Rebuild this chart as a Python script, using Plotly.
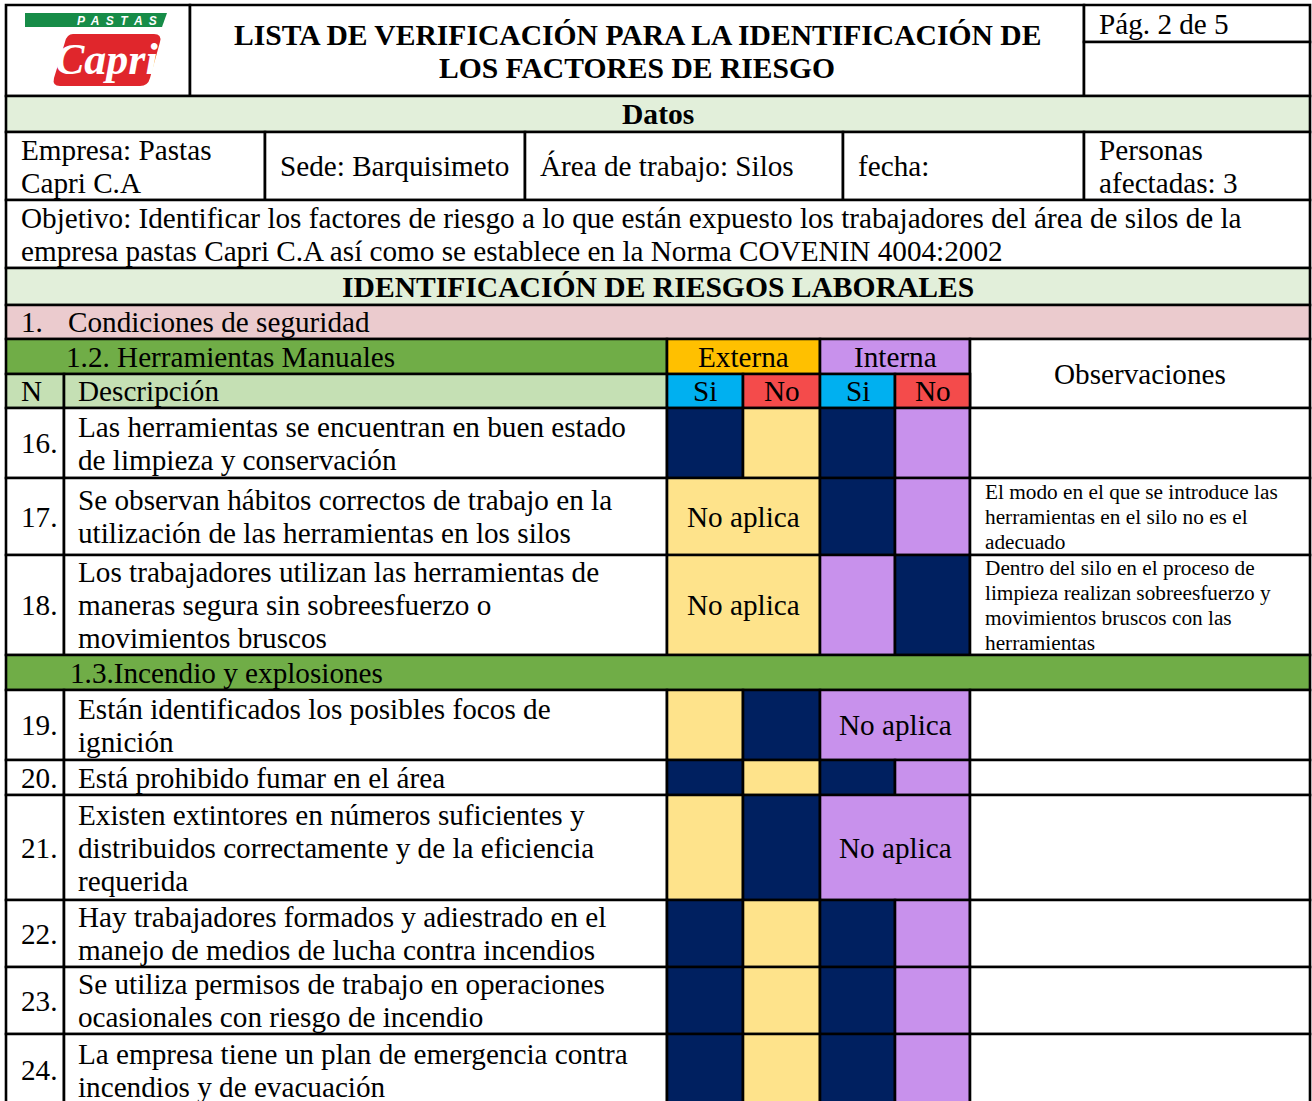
import plotly.graph_objects as go

# ---------------- DATA ----------------
TITLE_LINES = ["LISTA DE VERIFICACIÓN PARA LA IDENTIFICACIÓN DE", "LOS FACTORES DE RIESGO"]
PAGE_LABEL = "Pág. 2 de 5"
LOGO_TOP = "P  A  S  T  A  S"
LOGO_NAME = "Capri"
SECTION_DATOS = "Datos"
INFO_FIELDS = [["Empresa: Pastas", "Capri C.A"], ["Sede: Barquisimeto"], ["Área de trabajo: Silos"],
               ["fecha:"], ["Personas", "afectadas: 3"]]
OBJETIVO_LINES = [
    "Objetivo: Identificar los factores de riesgo a lo que están expuesto los trabajadores del área de silos de la",
    "empresa pastas Capri C.A así como se establece en la Norma COVENIN 4004:2002",
]
SECTION_ID = "IDENTIFICACIÓN DE RIESGOS LABORALES"
CONDICIONES_NUM = "1."
CONDICIONES_TXT = "Condiciones de seguridad"
GROUP_HEADERS = ["Externa", "Interna"]
ANSWER_LABELS = ["Si", "No"]
COL_N = "N"
COL_DESC = "Descripción"
OBS_HEADER = "Observaciones"
NO_APLICA = "No aplica"
SUB_SECTIONS = ["1.2. Herramientas Manuales", "1.3.Incendio y explosiones"]

ITEM_N = ["16.", "17.", "18.", "19.", "20.", "21.", "22.", "23.", "24."]
ITEM_SECTION = [0, 0, 0, 1, 1, 1, 1, 1, 1]
ITEM_DESC = [
    ["Las herramientas se encuentran en buen estado", "de limpieza y conservación"],
    ["Se observan hábitos correctos de trabajo en la", "utilización de las herramientas en los silos"],
    ["Los trabajadores utilizan las herramientas de", "maneras segura sin sobreesfuerzo o", "movimientos bruscos"],
    ["Están identificados los posibles focos de", "ignición"],
    ["Está prohibido fumar en el área"],
    ["Existen extintores en números suficientes y", "distribuidos correctamente y de la eficiencia", "requerida"],
    ["Hay trabajadores formados y adiestrado en el", "manejo de medios de lucha contra incendios"],
    ["Se utiliza permisos de trabajo en operaciones", "ocasionales con riesgo de incendio"],
    ["La empresa tiene un plan de emergencia contra", "incendios y de evacuación"],
]
EXTERNA = ["Si", "NA", "NA", "No", "Si", "No", "Si", "Si", "Si"]
INTERNA = ["Si", "Si", "No", "NA", "Si", "NA", "Si", "Si", "Si"]
OBSERVACIONES = [
    [],
    ["El modo en el que se introduce las", "herramientas en el silo no es el", "adecuado"],
    ["Dentro del silo en el proceso de", "limpieza realizan sobreesfuerzo y", "movimientos bruscos con las", "herramientas"],
    [], [], [], [], [], [],
]

# ---------------- LAYOUT / STYLE ----------------
W, H = 1312, 1101
FONT = "Liberation Serif"
FS, FS_BOLD, FS_SMALL = 29.2, 29.6, 21.3
LH, LH_SMALL = 33, 25
LINE_W = 2.6

X_L, X_R = 6, 1310
X_LOGO, X_PAG = 190, 1084
INFO_X = [6, 265, 525, 843, 1084, 1310]
COL_X = [6, 64, 667, 743, 820, 895, 970, 1310]  # N, Desc, ExtSi, ExtNo, IntSi, IntNo, Obs
PAD = 13

Y_TOP, Y_PAG_SPLIT, Y_HDR_B = 5, 42, 96
TOP_ROWS = [96, 132, 200, 268, 305, 339, 374, 408]  # datos, info, objetivo, ident, cond, sub1, colhdr
ITEM_H = [70, 77, 100, 70, 35, 105, 67, 67, 72]
SUB_H = 35

C_DATOS = "#E2EFDA"
C_PINK = "#EBCBCE"
C_GREEN = "#70AD47"
C_LGREEN = "#C5E0B4"
C_GOLD = "#FFC000"
C_PURPLE = "#C891EC"
C_CYAN = "#00B0F0"
C_RED = "#F44B4B"
C_YELLOW = "#FEE38B"
C_NAVY = "#002060"

shapes, annots = [], []


def rect(x0, x1, y0, y1, fill="white", lw=LINE_W):
    shapes.append(dict(type="rect", xref="x", yref="y", x0=x0, x1=x1, y0=y0, y1=y1,
                       fillcolor=fill, line=dict(color="black", width=lw), layer="below"))


def text(x, y, s, anchor="left", size=FS, bold=False, color="black", family=FONT, italic=False):
    annots.append(dict(x=x, y=y, xref="x", yref="y", text=s, showarrow=False,
                       xanchor=anchor, yanchor="middle",
                       font=dict(family=family, size=size, color=color,
                                 weight="bold" if bold else "normal",
                                 style="italic" if italic else "normal")))


def lines(x, yc, lst, lh=LH, size=FS, anchor="left", bold=False):
    n = len(lst)
    for i, s in enumerate(lst):
        text(x, yc + (i - (n - 1) / 2) * lh, s, anchor=anchor, size=size, bold=bold)


# ---- header ----
rect(X_L, X_LOGO, Y_TOP, Y_HDR_B)
rect(X_LOGO, X_PAG, Y_TOP, Y_HDR_B)
rect(X_PAG, X_R, Y_TOP, Y_PAG_SPLIT)
rect(X_PAG, X_R, Y_PAG_SPLIT, Y_HDR_B)
lines((X_LOGO + X_PAG) / 2, (Y_TOP + Y_HDR_B) / 2 + 1, TITLE_LINES, anchor="center", bold=True,
      size=FS_BOLD)
text(X_PAG + PAD, (Y_TOP + Y_PAG_SPLIT) / 2, PAGE_LABEL)

# logo
shapes.append(dict(type="path", xref="x", yref="y", path="M 25,13 L 167,13 L 162,27 L 25,27 Z",
                   fillcolor="#178C48", line=dict(width=0), layer="above"))
shapes.append(dict(type="path", xref="x", yref="y",
                   path="M 73,34 L 154,34 Q 162,34 160,42 L 150,78 Q 148,86 140,86 L 60,86 Q 52,86 54,78 L 65,42 Q 67,34 73,34 Z",
                   fillcolor="#E0262C", line=dict(width=0), layer="above"))
text(117, 20.5, LOGO_TOP, anchor="center", size=12, bold=True, color="white",
     family="Liberation Sans", italic=True)
text(106, 59, LOGO_NAME, anchor="center", size=44, bold=True, color="white", italic=True)

# ---- datos ----
y0, y1 = TOP_ROWS[0], TOP_ROWS[1]
rect(X_L, X_R, y0, y1, C_DATOS)
text((X_L + X_R) / 2, (y0 + y1) / 2, SECTION_DATOS, anchor="center", bold=True, size=FS_BOLD)

# ---- info ----
y0, y1 = TOP_ROWS[1], TOP_ROWS[2]
for i, f in enumerate(INFO_FIELDS):
    rect(INFO_X[i], INFO_X[i + 1], y0, y1)
    lines(INFO_X[i] + PAD, (y0 + y1) / 2, f)

# ---- objetivo ----
y0, y1 = TOP_ROWS[2], TOP_ROWS[3]
rect(X_L, X_R, y0, y1)
lines(X_L + PAD, (y0 + y1) / 2, OBJETIVO_LINES)

# ---- identificacion ----
y0, y1 = TOP_ROWS[3], TOP_ROWS[4]
rect(X_L, X_R, y0, y1, C_DATOS)
text((X_L + X_R) / 2, (y0 + y1) / 2, SECTION_ID, anchor="center", bold=True, size=FS_BOLD)

# ---- condiciones ----
y0, y1 = TOP_ROWS[4], TOP_ROWS[5]
rect(X_L, X_R, y0, y1, C_PINK)
text(X_L + PAD, (y0 + y1) / 2, CONDICIONES_NUM)
text(66, (y0 + y1) / 2, CONDICIONES_TXT)

# ---- sub1 + column headers ----
ys0, ys1, yc1 = TOP_ROWS[5], TOP_ROWS[6], TOP_ROWS[7]
rect(COL_X[0], COL_X[2], ys0, ys1, C_GREEN)
text(64, (ys0 + ys1) / 2, SUB_SECTIONS[0])
for g, (xa, xb, col) in enumerate([(COL_X[2], COL_X[4], C_GOLD), (COL_X[4], COL_X[6], C_PURPLE)]):
    rect(xa, xb, ys0, ys1, col)
    text((xa + xb) / 2, (ys0 + ys1) / 2, GROUP_HEADERS[g], anchor="center")
rect(COL_X[6], COL_X[7], ys0, yc1)
text((COL_X[6] + COL_X[7]) / 2, (ys0 + yc1) / 2, OBS_HEADER, anchor="center")
rect(COL_X[0], COL_X[1], ys1, yc1, C_LGREEN)
text(COL_X[0] + PAD, (ys1 + yc1) / 2, COL_N)
rect(COL_X[1], COL_X[2], ys1, yc1, C_LGREEN)
text(COL_X[1] + 12, (ys1 + yc1) / 2, COL_DESC)
for k in range(4):
    xa, xb = COL_X[2 + k], COL_X[3 + k]
    rect(xa, xb, ys1, yc1, C_CYAN if k % 2 == 0 else C_RED)
    text((xa + xb) / 2, (ys1 + yc1) / 2, ANSWER_LABELS[k % 2], anchor="center")

# ---- items ----
y = yc1
prev_sec = ITEM_SECTION[0]
for i in range(len(ITEM_N)):
    if ITEM_SECTION[i] != prev_sec:
        rect(X_L, X_R, y, y + SUB_H, C_GREEN)
        text(68, y + SUB_H / 2, SUB_SECTIONS[ITEM_SECTION[i]])
        y += SUB_H
        prev_sec = ITEM_SECTION[i]
    y0, y1 = y, y + ITEM_H[i]
    yc = (y0 + y1) / 2
    rect(COL_X[0], COL_X[1], y0, y1)
    text(COL_X[0] + 13, yc, ITEM_N[i])
    rect(COL_X[1], COL_X[2], y0, y1)
    lines(COL_X[1] + 12, yc, ITEM_DESC[i])
    for ans, xa, base in [(EXTERNA[i], COL_X[2], C_YELLOW), (INTERNA[i], COL_X[4], C_PURPLE)]:
        xm = COL_X[COL_X.index(xa) + 1]
        xb = COL_X[COL_X.index(xa) + 2]
        if ans == "NA":
            rect(xa, xb, y0, y1, base)
            text((xa + xb) / 2, yc, NO_APLICA, anchor="center")
        else:
            rect(xa, xm, y0, y1, C_NAVY if ans == ANSWER_LABELS[0] else base)
            rect(xm, xb, y0, y1, C_NAVY if ans == ANSWER_LABELS[1] else base)
    rect(COL_X[6], COL_X[7], y0, y1)
    if OBSERVACIONES[i]:
        lines(COL_X[6] + PAD, yc, OBSERVACIONES[i], lh=LH_SMALL, size=FS_SMALL)
    y = y1

fig = go.Figure()
fig.add_trace(go.Scatter(x=[0, W], y=[0, H], mode="markers", marker=dict(opacity=0), hoverinfo="skip",
                         showlegend=False))
fig.update_layout(
    width=W, height=H, margin=dict(l=0, r=0, t=0, b=0),
    paper_bgcolor="white", plot_bgcolor="white",
    xaxis=dict(range=[0, W], visible=False, fixedrange=True),
    yaxis=dict(range=[H, 0], visible=False, fixedrange=True),
    shapes=shapes, annotations=annots, showlegend=False,
)
fig.write_html("out.html", config={"displayModeBar": False},
               post_script="document.body.style.margin='0';document.body.style.overflow='hidden';")
